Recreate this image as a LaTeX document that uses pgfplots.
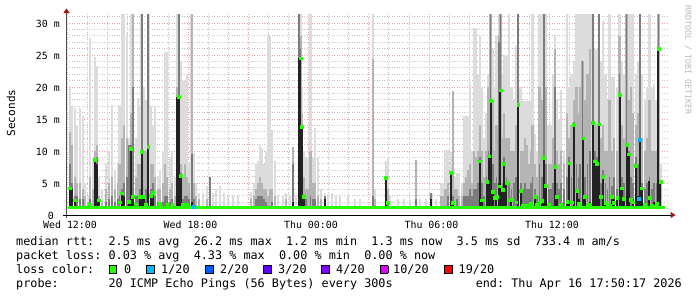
\documentclass[border=0pt]{standalone}
\usepackage{fontspec}
\setmainfont{DejaVu Sans Mono}
\usepackage{pgfplots}
\pgfplotsset{compat=1.18}
\usepackage{pgfplotstable}
\usetikzlibrary{arrows.meta}
\frenchspacing
\definecolor{smokeL}{HTML}{DCDCDC}
\definecolor{smokeM}{HTML}{B4B4B4}
\definecolor{smokeK}{HTML}{7C7C7C}
\definecolor{smokeD}{HTML}{222222}
\definecolor{lc0}{HTML}{26FF00}
\definecolor{lc1}{HTML}{00B8FF}
\definecolor{lc2}{HTML}{0059FF}
\definecolor{lc3}{HTML}{5E00FF}
\definecolor{lc4}{HTML}{7E00FF}
\definecolor{lc10}{HTML}{DD00FF}
\definecolor{lc19}{HTML}{FF0000}
\definecolor{arrowred}{HTML}{A01010}
\definecolor{mgrid}{HTML}{EBA5A5}
\definecolor{ngrid}{HTML}{C4C4C4}
\newcommand\lgf{\fontsize{11.8bp}{14bp}\selectfont}
\newcommand\lcbox[1]{{\setlength\fboxsep{0pt}\setlength\fboxrule{0.8bp}\fcolorbox{black}{#1}{\rule{0pt}{7bp}\hspace{7bp}}}}

% h = hours since Wed 12:00; L,M,K,D = tops of smoke shades (ms); G = median (ms)
\pgfplotstableread{
h L M K D G
0.12 20.2 13 8 4.3 4.2
0.22 17 11 5 4 nan
0.37 16.7 6 3 2 2.3
0.47 14 5 3 0 nan
0.62 16.7 5 2.5 0 nan
0.77 15.5 4 2.5 0 nan
0.87 5 3 0 0 nan
1.02 3 2 0 0 nan
1.12 27.6 6 2.5 0 1.7
1.27 9 4 0 0 nan
1.37 24.7 10 8.7 8.7 8.7
1.47 23.2 11 9 8 nan
1.57 6 3 2.4 2.3 2.3
1.72 4 2 0 0 nan
1.92 8 4 2 0 nan
2.07 10 5 2.5 0 nan
2.22 17.2 6 3 0 nan
2.37 7 4 2 0 nan
2.52 8 5 2.5 0 nan
2.59 17.2 8 3 0 2
2.71 31.4 12 4 3.4 3.4
2.81 31.4 14 5 3 nan
2.96 28.4 12 6 0 nan
3.06 12 11 11 2 2.1
3.16 31.4 16 11 10.4 10.4
3.26 31.4 31.4 20 3 2.9
3.41 12 6 3 0 1.7
3.51 18.2 8 3 0 nan
3.61 17 8 4 2.9 2.9
3.70 31.4 31.4 31.4 9.9 9.9
3.81 20 10 3 2.8 2.8
3.91 18 10 4 0 1.7
4.02 31.4 31.4 31.4 10.7 10.7
4.16 17 8 4 3 3.0
4.26 14 8 5 3.5 3.5
4.36 17 6 3 0 nan
4.51 6 4 2 0 nan
4.61 7 4 2 0 1.8
4.76 10 5 2 0 nan
4.86 25.5 8 3 0 nan
4.96 25.5 6 3 0 1.7
5.11 9 4 2 0 nan
5.21 10 5 2.5 0 1.7
5.36 6 3 0 0 nan
5.45 31.4 20 18.5 18.5 nan
5.55 31.4 31.4 31.4 18.5 18.5
5.65 24 8 6.5 6.2 6.2
5.75 21 6 2.5 0 1.6
5.85 21.1 8 3 0 nan
5.95 22 6 3 0 1.7
6.05 8 5 2.5 0 nan
6.18 31.4 31.4 9.6 2 nan
6.30 9.7 5 2.5 0 nan
6.40 5 3 0 0 nan
6.55 3.5 2.5 0 0 nan
6.75 3.5 0 0 0 nan
6.95 4.5 2.5 0 0 nan
7.10 6 6 6 0 nan
7.25 3.5 0 0 0 nan
7.40 4 0 0 0 nan
7.59 4.5 0 0 0 nan
7.79 3.5 0 0 0 nan
7.99 3 0 0 0 nan
8.24 3 0 0 0 nan
8.49 3 0 0 0 nan
9.14 3.6 2.5 0 0 nan
9.29 5 3 0 0 nan
9.39 8 4 2.5 0 nan
9.49 8.5 5 3 0 nan
9.59 10.9 6 3 0 nan
9.69 10.5 5 3 0 nan
9.79 8 4 2.5 0 nan
9.89 10 4 2 0 nan
9.99 28.1 3 0 0 nan
10.09 28 4 0 0 nan
10.19 13.3 4 2 0 nan
10.34 8.5 3 0 0 nan
10.48 3 0 0 0 nan
10.73 3 0 0 0 nan
10.88 3.5 2.5 0 0 nan
11.08 3 0 0 0 nan
11.23 10.7 10.7 8 2 nan
11.38 3 0 0 0 nan
11.53 31.4 31.4 31.4 24.5 nan
11.60 31.4 28 26 24.5 24.5
11.68 20 16 14 13.8 13.8
11.78 10 6 3 2.8 2.8
11.88 9 4 2.5 0 nan
11.98 9 4 0 0 nan
12.10 31.4 10 3 0 nan
12.23 8.9 5 2.5 0 nan
12.33 13.6 5 2.5 0 nan
12.48 8.9 3 0 0 nan
12.62 4 2.5 0 0 nan
12.82 3.5 3 3 2.5 nan
12.97 3 0 0 0 nan
13.17 3.5 0 0 0 nan
13.37 3 0 0 0 nan
13.57 3 0 0 0 nan
13.97 3 0 0 0 nan
14.32 2.5 0 0 0 nan
14.57 2.5 0 0 0 nan
15.21 31.4 24.3 3 0 nan
15.31 4 2.5 0 0 nan
15.86 8.5 6 6 5.8 5.8
15.96 9 4 2 0 1.9
16.06 3 0 0 0 nan
16.46 2.5 0 0 0 nan
16.76 2.5 0 0 0 nan
17.06 2.5 0 0 0 nan
17.36 8.6 8.6 2.5 0 nan
17.56 2.5 0 0 0 nan
17.86 2.5 0 0 0 nan
18.11 3.5 3.5 3.5 2.5 nan
18.35 2.5 0 0 0 nan
18.60 5 3 0 0 nan
18.70 5 3 0 0 nan
18.82 10.2 4 0 0 nan
18.95 10.2 5 3 0 nan
19.10 9.8 6.6 6.6 6.6 6.6
19.20 19.3 19.3 3 2 1.9
19.30 6 4 0 0 nan
19.40 6.5 4 2.5 0 nan
19.50 6.5 3 0 0 nan
19.65 5 3 0 0 nan
19.75 15.4 5 3 0 nan
19.85 15.4 6 3 0 nan
19.95 15.4 7 3 0 nan
20.04 20.6 8 4 0 nan
20.14 10 5 3 0 nan
20.24 29.2 10 4 0 nan
20.34 29.2 9 4 0 nan
20.44 22 10 5 0 nan
20.54 28 14 9 8.4 8.4
20.64 20 10 5 2.4 2.3
20.74 12 6 3 0 2.3
20.87 16 10 6 5.2 5.2
20.97 22 20 10 9.2 9.2
21.07 31.4 31.4 31.4 17.9 17.9
21.17 26 18 8 3.7 3.7
21.27 20 10 5 0 2.7
21.36 28 14 6 2.8 2.8
21.49 31.4 28 27 5 4.5
21.56 31.4 31.4 31.4 19.5 19.5
21.66 22 12 5 4 4
21.74 25 16 9 8 8
21.86 25 12 6 5.1 5.1
21.99 31.4 12 5 0 2.3
22.11 20 10 4 2.4 2.4
22.24 18 10 5 0 nan
22.34 26.4 14 6 0 2
22.44 31.4 31.4 31.4 17.2 17.2
22.57 20 10 5 3.8 3.8
22.68 17.8 10 4 0 1.5
22.78 17.8 12 5 0 nan
22.88 17.8 11 4 0 1.5
22.98 17.8 8 4 0 nan
23.08 18 10 5 0 1.8
23.16 31.4 14 6 0 nan
23.28 12.6 8 4 2.9 2.9
23.38 10 6 3 0 1.6
23.51 31.4 20 8 0 2
23.61 31.4 18 6 2.5 2.2
23.73 31.4 31.4 31.4 8.9 8.9
23.83 31.4 20 8 4.6 4.6
23.96 14 8 4 0 1.6
24.08 14 8 4 0 nan
24.18 21.9 12 5 0 nan
24.28 28 26 20 7.6 7.6
24.38 18 10 5 2.9 2.9
24.48 15 8 4 0 nan
24.58 19.6 10 5 0 1.6
24.73 10 8 4 0 nan
24.88 31.4 16 6 2 2.1
24.98 20 12 9 8.1 8.1
25.10 22 14 6 0 2
25.22 24 18 14.5 14.1 14.1
25.35 31.4 20 8 3.8 3.8
25.45 31.4 16 6 2.5 1.8
25.52 31.4 20 8 0 1.6
25.65 31.4 24 24 12 12
25.77 31.4 18 6 3 2.9
25.90 31.4 22 8 0 1.7
26.02 31.4 26 10 2 1.6
26.15 31.4 31.4 31.4 14.4 14.4
26.27 26 14 10 8.4 8.4
26.37 26 14 9 8 8
26.47 31.4 31.4 31.4 14.2 14.2
26.57 24 12 5 0 2.8
26.67 30.3 14 7 6.0 6.0
26.79 22 10 5 2 1.9
26.89 18 10 4 0 1.6
26.99 31.4 18 6 0 1.5
27.12 21.5 10 4.5 3 2.8
27.22 21.5 12 6 2.5 1.9
27.37 20 10 4 2.7 2.7
27.49 31.4 28 22 18.8 18.8
27.61 24 14 6 4.2 4.2
27.71 22 12 5 2.6 2.6
27.84 31.4 31.4 31.4 11 11
27.96 31.4 18 10 9.5 9.5
28.06 31.4 20 6 0 2.4
28.16 31.4 16 5 2.5 2
28.31 22 14 9 7.7 7.7
28.41 24 16 8 3 nan
28.51 31.4 31.4 31.4 11.8 nan
28.61 22 12 5 4.2 4.2
28.76 18 10 4 0 1.6
28.86 20 12 5 0 nan
28.98 31.4 18 6 5.3 2.7
29.11 20 10 4 0 1.4
29.21 20.5 10 5 2 1.3
29.33 18 10 5 0 1.8
29.43 31.4 31.4 31.4 26 26
29.53 8 5 5 5.2 5.2
}\smoke

\pgfplotstableread{
h G
6.30 1.3
28.46 2.6
28.51 11.8
}\lossone

\begin{document}
\begin{tikzpicture}[x=1bp,y=1bp]
\useasboundingbox (-66.5,-82) rectangle (630.5,215);
\begin{axis}[
  at={(0,0)}, anchor=south west,
  scale only axis, width=602.4bp, height=201bp,
  xmin=-0.05, xmax=29.95, ymin=0, ymax=31.4,
  axis line style={draw=none},
  tick style={draw=none},
  xtick={0,3,6,9,12,15,18,21,24,27},
  xticklabels={Wed 12:00,,Wed 18:00,,Thu 00:00,,Thu 06:00,,Thu 12:00,},
  minor xtick={1,2,4,5,7,8,10,11,13,14,16,17,19,20,22,23,25,26,28,29},
  ytick={0,5,10,15,20,25,30},
  yticklabels={0~~,5 m,10 m,15 m,20 m,25 m,30 m},
  minor ytick={1,2,3,4,6,7,8,9,11,12,13,14,16,17,18,19,21,22,23,24,26,27,28,29,31},
  grid=both,
  major grid style={draw=mgrid, line width=0.7bp, dash pattern=on 1bp off 1.5bp},
  minor grid style={draw=ngrid, line width=0.7bp, dash pattern=on 1bp off 1.5bp},
  xticklabel style={font=\fontsize{9.9bp}{11bp}\selectfont, anchor=base, inner sep=0pt, yshift=-13.5bp, xshift=2.5bp},
  yticklabel style={font=\fontsize{9.9bp}{11bp}\selectfont, anchor=east, inner sep=0pt, xshift=-6.5bp, yshift=-1.2bp},
  clip=true,
]
\addplot[ycomb, draw=smokeL, line width=2.7bp] table[x=h, y=L] {\smoke};
\addplot[ycomb, draw=smokeM, line width=2.2bp] table[x=h, y=M] {\smoke};
\addplot[ycomb, draw=smokeK, line width=1.8bp] table[x=h, y=K] {\smoke};
\addplot[ycomb, draw=smokeD, line width=2bp] table[x=h, y=D] {\smoke};
\addplot[fill=white, draw=none] coordinates {(-0.05,1.0) (29.95,1.0)} \closedcycle;
\addplot[draw=lc0, line width=3bp] coordinates {(0,1.25) (29.76,1.25)};
\addplot[only marks, mark=square*, mark size=1.4bp, color=lc0, unbounded coords=discard] table[x=h, y=G] {\smoke};
\addplot[only marks, mark=square*, mark size=1.4bp, color=lc1] table[x=h, y=G] {\lossone};
\end{axis}
% axis lines with arrows
\draw[line width=1bp, black!70, -{Triangle[length=4.5bp,width=6bp,color=arrowred]}] (0,-3) -- (0,206.5);
\draw[line width=1bp, black, -{Triangle[length=5bp,width=6bp,color=arrowred]}] (-3,0) -- (609,0);
% labels
\node[rotate=90, font=\fontsize{11.1bp}{13bp}\selectfont] at (-55.5,102) {Seconds};
\node[rotate=-90, text={rgb,255:red,185;green,185;blue,185}, font=\fontsize{8.3bp}{9bp}\selectfont] at (621.5,155) {RRDTOOL / TOBI OETIKER};
% legend / statistics
\node[anchor=base west, inner sep=0pt] at (-50.5,-30) {\lgf median rtt:~~2.5 ms avg~~26.2 ms max~~1.2 ms min~~1.3 ms now~~3.5 ms sd~~733.4 m am/s};
\node[anchor=base west, inner sep=0pt] at (-50.5,-44) {\lgf packet loss: 0.03 \% avg~~4.33 \% max~~0.00 \% min~~0.00 \% now};
\node[anchor=base west, inner sep=0pt] at (-50.5,-58) {\lgf loss color:};
\node[anchor=base west, inner sep=0pt] at (42,-58) {\lcbox{lc0}};
\node[anchor=base west, inner sep=0pt] at (57.5,-58) {\lgf 0};
\node[anchor=base west, inner sep=0pt] at (79.5,-58) {\lcbox{lc1}};
\node[anchor=base west, inner sep=0pt] at (94.5,-58) {\lgf 1/20};
\node[anchor=base west, inner sep=0pt] at (138.5,-58) {\lcbox{lc2}};
\node[anchor=base west, inner sep=0pt] at (153.5,-58) {\lgf 2/20};
\node[anchor=base west, inner sep=0pt] at (196.5,-58) {\lcbox{lc3}};
\node[anchor=base west, inner sep=0pt] at (211.5,-58) {\lgf 3/20};
\node[anchor=base west, inner sep=0pt] at (254.5,-58) {\lcbox{lc4}};
\node[anchor=base west, inner sep=0pt] at (269.5,-58) {\lgf 4/20};
\node[anchor=base west, inner sep=0pt] at (313,-58) {\lcbox{lc10}};
\node[anchor=base west, inner sep=0pt] at (326.5,-58) {\lgf 10/20};
\node[anchor=base west, inner sep=0pt] at (377.5,-58) {\lcbox{lc19}};
\node[anchor=base west, inner sep=0pt] at (392,-58) {\lgf 19/20};
\node[anchor=base west, inner sep=0pt] at (-50.5,-72.5) {\lgf probe:~~~~~~~20 ICMP Echo Pings (56 Bytes) every 300s};
\node[anchor=base east, inner sep=0pt] at (615.5,-72.5) {\lgf end: Thu Apr 16 17:50:17 2026};
\end{tikzpicture}
\end{document}
